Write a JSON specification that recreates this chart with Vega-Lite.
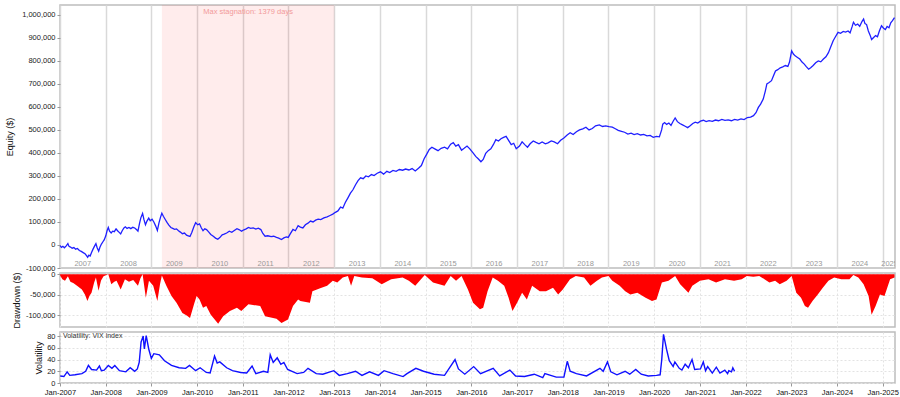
{
  "$schema": "https://vega.github.io/schema/vega-lite/v6.json",
  "padding": {"left": 4, "top": 4, "right": 5, "bottom": 2},
  "background": "white",
  "spacing": 5,
  "bounds": "flush",
  "config": {
    "font": "Liberation Sans",
    "locale": {"number": {"decimal": ".", "thousands": ",", "grouping": [3], "currency": ["$", ""], "minus": "-"}},
    "view": {"stroke": "#bdbdbd", "strokeWidth": 1.5},
    "axis": {"labelFontSize": 7.5, "labelColor": "#222222", "titleFontSize": 9, "titleFontWeight": "normal", "titleColor": "#111111", "tickColor": "#999999", "tickSize": 3, "labelPadding": 2, "domain": false, "gridColor": "#e3e3e3", "gridDash": [2, 2], "gridWidth": 1, "labelOverlap": false, "labelFlush": false}
  },
  "datasets": {
    "stag": [{"start": "2009-03-25", "end": "2013-01-02", "mid": "2011-02-12", "label": "Max stagnation: 1379 days"}],
    "years": [
      {"date": "2007-07-02", "label": "2007"}, {"date": "2008-07-02", "label": "2008"}, {"date": "2009-07-02", "label": "2009"},
      {"date": "2010-07-02", "label": "2010"}, {"date": "2011-07-02", "label": "2011"}, {"date": "2012-07-02", "label": "2012"},
      {"date": "2013-07-02", "label": "2013"}, {"date": "2014-07-02", "label": "2014"}, {"date": "2015-07-02", "label": "2015"},
      {"date": "2016-07-02", "label": "2016"}, {"date": "2017-07-02", "label": "2017"}, {"date": "2018-07-02", "label": "2018"},
      {"date": "2019-07-02", "label": "2019"}, {"date": "2020-07-02", "label": "2020"}, {"date": "2021-07-02", "label": "2021"},
      {"date": "2022-07-02", "label": "2022"}, {"date": "2023-07-02", "label": "2023"}, {"date": "2024-07-02", "label": "2024"},
      {"date": "2025-02-25", "label": "2025"}
    ],
    "legend": [{"date": "2007-01-24", "label": "Volatility: VIX index"}],
    "equity": [
      {"date":"2007-01-02","equity":-3000},{"date":"2007-01-12","equity":-10000},{"date":"2007-01-24","equity":-6000},{"date":"2007-02-05","equity":-12000},{"date":"2007-02-20","equity":-4000},{"date":"2007-03-05","equity":6000},{"date":"2007-03-14","equity":-6000},{"date":"2007-03-26","equity":-9000},{"date":"2007-04-08","equity":-14000},{"date":"2007-04-22","equity":-11000},{"date":"2007-05-06","equity":-18000},{"date":"2007-05-20","equity":-15000},{"date":"2007-06-05","equity":-24000},{"date":"2007-06-20","equity":-28000},{"date":"2007-07-05","equity":-33000},{"date":"2007-07-20","equity":-38000},{"date":"2007-08-01","equity":-46000},{"date":"2007-08-10","equity":-53000},{"date":"2007-08-20","equity":-44000},{"date":"2007-08-30","equity":-48000},{"date":"2007-09-10","equity":-33000},{"date":"2007-09-22","equity":-18000},{"date":"2007-10-05","equity":-4000},{"date":"2007-10-15","equity":6000},{"date":"2007-10-25","equity":-12000},{"date":"2007-11-06","equity":-27000},{"date":"2007-11-16","equity":-10000},{"date":"2007-11-28","equity":4000},{"date":"2007-12-10","equity":14000},{"date":"2007-12-20","equity":22000},
      {"date":"2008-01-02","equity":40000},{"date":"2008-01-12","equity":62000},{"date":"2008-01-22","equity":76000},{"date":"2008-02-01","equity":60000},{"date":"2008-02-14","equity":52000},{"date":"2008-02-26","equity":60000},{"date":"2008-03-10","equity":58000},{"date":"2008-03-24","equity":70000},{"date":"2008-04-05","equity":62000},{"date":"2008-04-18","equity":55000},{"date":"2008-04-30","equity":48000},{"date":"2008-05-12","equity":62000},{"date":"2008-05-26","equity":74000},{"date":"2008-06-06","equity":79000},{"date":"2008-06-20","equity":72000},{"date":"2008-07-05","equity":76000},{"date":"2008-07-20","equity":71000},{"date":"2008-08-05","equity":77000},{"date":"2008-08-20","equity":74000},{"date":"2008-09-05","equity":66000},{"date":"2008-09-15","equity":60000},{"date":"2008-09-28","equity":95000},{"date":"2008-10-08","equity":118000},{"date":"2008-10-22","equity":137000},{"date":"2008-11-02","equity":110000},{"date":"2008-11-14","equity":88000},{"date":"2008-11-26","equity":104000},{"date":"2008-12-10","equity":117000},{"date":"2008-12-22","equity":105000},
      {"date":"2009-01-06","equity":112000},{"date":"2009-01-20","equity":100000},{"date":"2009-02-04","equity":82000},{"date":"2009-02-17","equity":63000},{"date":"2009-03-02","equity":96000},{"date":"2009-03-14","equity":120000},{"date":"2009-03-25","equity":138000},{"date":"2009-04-06","equity":125000},{"date":"2009-04-20","equity":112000},{"date":"2009-05-05","equity":98000},{"date":"2009-05-20","equity":86000},{"date":"2009-06-05","equity":76000},{"date":"2009-06-20","equity":72000},{"date":"2009-07-05","equity":68000},{"date":"2009-07-20","equity":70000},{"date":"2009-08-05","equity":62000},{"date":"2009-08-20","equity":56000},{"date":"2009-09-05","equity":49000},{"date":"2009-09-22","equity":52000},{"date":"2009-10-08","equity":43000},{"date":"2009-10-22","equity":40000},{"date":"2009-11-05","equity":37000},{"date":"2009-11-20","equity":55000},{"date":"2009-12-05","equity":78000},{"date":"2009-12-20","equity":97000},
      {"date":"2010-01-05","equity":88000},{"date":"2010-01-20","equity":92000},{"date":"2010-02-03","equity":75000},{"date":"2010-02-17","equity":62000},{"date":"2010-03-03","equity":70000},{"date":"2010-03-17","equity":67000},{"date":"2010-04-01","equity":58000},{"date":"2010-04-20","equity":46000},{"date":"2010-05-10","equity":38000},{"date":"2010-05-28","equity":30000},{"date":"2010-06-15","equity":25000},{"date":"2010-07-01","equity":32000},{"date":"2010-07-20","equity":44000},{"date":"2010-08-05","equity":47000},{"date":"2010-08-25","equity":52000},{"date":"2010-09-15","equity":60000},{"date":"2010-10-05","equity":55000},{"date":"2010-10-25","equity":63000},{"date":"2010-11-15","equity":71000},{"date":"2010-12-05","equity":66000},{"date":"2010-12-22","equity":60000},
      {"date":"2011-01-10","equity":66000},{"date":"2011-01-28","equity":70000},{"date":"2011-02-15","equity":76000},{"date":"2011-03-05","equity":72000},{"date":"2011-03-25","equity":74000},{"date":"2011-04-15","equity":69000},{"date":"2011-05-05","equity":73000},{"date":"2011-05-25","equity":67000},{"date":"2011-06-10","equity":50000},{"date":"2011-06-28","equity":38000},{"date":"2011-07-20","equity":40000},{"date":"2011-08-15","equity":36000},{"date":"2011-09-05","equity":38000},{"date":"2011-09-27","equity":33000},{"date":"2011-10-15","equity":30000},{"date":"2011-11-06","equity":24000},{"date":"2011-11-25","equity":31000},{"date":"2011-12-15","equity":35000},{"date":"2011-12-30","equity":33000},
      {"date":"2012-01-15","equity":48000},{"date":"2012-02-06","equity":68000},{"date":"2012-02-25","equity":62000},{"date":"2012-03-18","equity":84000},{"date":"2012-04-05","equity":78000},{"date":"2012-04-25","equity":74000},{"date":"2012-05-15","equity":88000},{"date":"2012-06-05","equity":95000},{"date":"2012-06-25","equity":104000},{"date":"2012-07-15","equity":100000},{"date":"2012-08-05","equity":108000},{"date":"2012-08-25","equity":112000},{"date":"2012-09-15","equity":110000},{"date":"2012-10-10","equity":118000},{"date":"2012-11-05","equity":122000},{"date":"2012-11-28","equity":128000},{"date":"2012-12-20","equity":134000},
      {"date":"2013-01-10","equity":142000},{"date":"2013-01-30","equity":148000},{"date":"2013-02-20","equity":165000},{"date":"2013-03-10","equity":160000},{"date":"2013-03-30","equity":185000},{"date":"2013-04-20","equity":205000},{"date":"2013-05-10","equity":225000},{"date":"2013-05-30","equity":240000},{"date":"2013-06-20","equity":262000},{"date":"2013-07-10","equity":280000},{"date":"2013-07-30","equity":292000},{"date":"2013-08-20","equity":288000},{"date":"2013-09-10","equity":300000},{"date":"2013-10-01","equity":296000},{"date":"2013-10-25","equity":306000},{"date":"2013-11-15","equity":302000},{"date":"2013-12-10","equity":312000},
      {"date":"2014-01-05","equity":318000},{"date":"2014-01-30","equity":308000},{"date":"2014-02-25","equity":320000},{"date":"2014-03-20","equity":315000},{"date":"2014-04-15","equity":324000},{"date":"2014-05-10","equity":320000},{"date":"2014-06-05","equity":328000},{"date":"2014-07-01","equity":325000},{"date":"2014-07-25","equity":330000},{"date":"2014-08-20","equity":326000},{"date":"2014-09-15","equity":332000},{"date":"2014-10-10","equity":322000},{"date":"2014-11-05","equity":334000},{"date":"2014-11-28","equity":345000},{"date":"2014-12-20","equity":375000},
      {"date":"2015-01-10","equity":395000},{"date":"2015-01-30","equity":415000},{"date":"2015-02-20","equity":425000},{"date":"2015-03-15","equity":418000},{"date":"2015-04-10","equity":410000},{"date":"2015-05-05","equity":420000},{"date":"2015-06-01","equity":425000},{"date":"2015-06-25","equity":418000},{"date":"2015-07-20","equity":438000},{"date":"2015-08-10","equity":445000},{"date":"2015-08-30","equity":430000},{"date":"2015-09-20","equity":436000},{"date":"2015-10-15","equity":412000},{"date":"2015-11-05","equity":420000},{"date":"2015-11-28","equity":430000},{"date":"2015-12-20","equity":418000},
      {"date":"2016-01-15","equity":400000},{"date":"2016-02-05","equity":385000},{"date":"2016-02-25","equity":375000},{"date":"2016-03-18","equity":362000},{"date":"2016-04-05","equity":372000},{"date":"2016-04-25","equity":398000},{"date":"2016-05-15","equity":410000},{"date":"2016-06-05","equity":418000},{"date":"2016-06-25","equity":436000},{"date":"2016-07-15","equity":458000},{"date":"2016-08-05","equity":452000},{"date":"2016-08-25","equity":462000},{"date":"2016-09-15","equity":468000},{"date":"2016-10-05","equity":472000},{"date":"2016-10-25","equity":455000},{"date":"2016-11-15","equity":436000},{"date":"2016-12-05","equity":442000},{"date":"2016-12-25","equity":418000},
      {"date":"2017-01-20","equity":430000},{"date":"2017-02-10","equity":448000},{"date":"2017-03-05","equity":435000},{"date":"2017-03-25","equity":425000},{"date":"2017-04-15","equity":440000},{"date":"2017-05-10","equity":452000},{"date":"2017-06-01","equity":446000},{"date":"2017-06-25","equity":440000},{"date":"2017-07-20","equity":448000},{"date":"2017-08-15","equity":440000},{"date":"2017-09-05","equity":444000},{"date":"2017-10-01","equity":452000},{"date":"2017-10-25","equity":448000},{"date":"2017-11-20","equity":440000},{"date":"2017-12-15","equity":455000},
      {"date":"2018-01-10","equity":465000},{"date":"2018-02-05","equity":478000},{"date":"2018-03-01","equity":488000},{"date":"2018-03-25","equity":480000},{"date":"2018-04-20","equity":492000},{"date":"2018-05-15","equity":500000},{"date":"2018-06-10","equity":505000},{"date":"2018-07-05","equity":512000},{"date":"2018-07-30","equity":500000},{"date":"2018-08-25","equity":506000},{"date":"2018-09-20","equity":518000},{"date":"2018-10-20","equity":522000},{"date":"2018-11-15","equity":515000},{"date":"2018-12-10","equity":518000},
      {"date":"2019-01-05","equity":514000},{"date":"2019-02-01","equity":512000},{"date":"2019-02-25","equity":505000},{"date":"2019-03-20","equity":498000},{"date":"2019-04-15","equity":494000},{"date":"2019-05-10","equity":490000},{"date":"2019-06-05","equity":482000},{"date":"2019-07-01","equity":486000},{"date":"2019-07-25","equity":480000},{"date":"2019-08-20","equity":484000},{"date":"2019-09-15","equity":478000},{"date":"2019-10-10","equity":481000},{"date":"2019-11-05","equity":474000},{"date":"2019-11-30","equity":476000},{"date":"2019-12-25","equity":468000},
      {"date":"2020-01-20","equity":472000},{"date":"2020-02-12","equity":470000},{"date":"2020-03-01","equity":500000},{"date":"2020-03-10","equity":525000},{"date":"2020-03-25","equity":532000},{"date":"2020-04-10","equity":524000},{"date":"2020-04-28","equity":530000},{"date":"2020-05-15","equity":520000},{"date":"2020-06-01","equity":538000},{"date":"2020-06-17","equity":552000},{"date":"2020-07-05","equity":536000},{"date":"2020-07-25","equity":528000},{"date":"2020-08-15","equity":522000},{"date":"2020-09-05","equity":516000},{"date":"2020-09-25","equity":510000},{"date":"2020-10-15","equity":518000},{"date":"2020-11-05","equity":528000},{"date":"2020-11-25","equity":534000},{"date":"2020-12-15","equity":530000},
      {"date":"2021-01-05","equity":538000},{"date":"2021-01-29","equity":542000},{"date":"2021-02-20","equity":536000},{"date":"2021-03-15","equity":540000},{"date":"2021-04-10","equity":537000},{"date":"2021-05-05","equity":543000},{"date":"2021-05-30","equity":540000},{"date":"2021-06-25","equity":546000},{"date":"2021-07-20","equity":542000},{"date":"2021-08-15","equity":544000},{"date":"2021-09-10","equity":540000},{"date":"2021-10-05","equity":546000},{"date":"2021-10-30","equity":543000},{"date":"2021-11-25","equity":548000},{"date":"2021-12-20","equity":545000},
      {"date":"2022-01-15","equity":554000},{"date":"2022-02-10","equity":556000},{"date":"2022-03-05","equity":562000},{"date":"2022-03-25","equity":575000},{"date":"2022-04-13","equity":598000},{"date":"2022-05-01","equity":612000},{"date":"2022-05-22","equity":634000},{"date":"2022-06-08","equity":670000},{"date":"2022-06-20","equity":700000},{"date":"2022-07-05","equity":705000},{"date":"2022-07-27","equity":714000},{"date":"2022-08-12","equity":735000},{"date":"2022-08-28","equity":756000},{"date":"2022-09-15","equity":762000},{"date":"2022-10-05","equity":770000},{"date":"2022-10-25","equity":774000},{"date":"2022-11-15","equity":780000},{"date":"2022-12-05","equity":776000},{"date":"2022-12-18","equity":795000},
      {"date":"2023-01-04","equity":844000},{"date":"2023-01-18","equity":830000},{"date":"2023-02-01","equity":822000},{"date":"2023-02-20","equity":815000},{"date":"2023-03-10","equity":808000},{"date":"2023-03-28","equity":795000},{"date":"2023-04-15","equity":786000},{"date":"2023-05-01","equity":775000},{"date":"2023-05-20","equity":764000},{"date":"2023-06-05","equity":770000},{"date":"2023-06-25","equity":780000},{"date":"2023-07-15","equity":792000},{"date":"2023-08-05","equity":800000},{"date":"2023-08-25","equity":796000},{"date":"2023-09-15","equity":808000},{"date":"2023-10-05","equity":818000},{"date":"2023-10-25","equity":836000},{"date":"2023-11-12","equity":860000},{"date":"2023-12-02","equity":888000},{"date":"2023-12-20","equity":905000},
      {"date":"2024-01-10","equity":924000},{"date":"2024-01-30","equity":920000},{"date":"2024-02-20","equity":928000},{"date":"2024-03-10","equity":925000},{"date":"2024-03-30","equity":930000},{"date":"2024-04-15","equity":922000},{"date":"2024-05-02","equity":950000},{"date":"2024-05-12","equity":968000},{"date":"2024-05-28","equity":955000},{"date":"2024-06-15","equity":960000},{"date":"2024-07-01","equity":950000},{"date":"2024-07-20","equity":972000},{"date":"2024-08-01","equity":982000},{"date":"2024-08-12","equity":962000},{"date":"2024-08-25","equity":958000},{"date":"2024-09-08","equity":930000},{"date":"2024-09-22","equity":912000},{"date":"2024-10-04","equity":893000},{"date":"2024-10-20","equity":902000},{"date":"2024-11-05","equity":910000},{"date":"2024-11-20","equity":905000},{"date":"2024-12-05","equity":930000},{"date":"2024-12-22","equity":953000},
      {"date":"2025-01-08","equity":942000},{"date":"2025-01-22","equity":936000},{"date":"2025-02-05","equity":950000},{"date":"2025-02-20","equity":944000},{"date":"2025-03-06","equity":966000},{"date":"2025-03-20","equity":975000},{"date":"2025-04-05","equity":988000}
    ],
    "drawdown": [
      {"date":"2007-01-02","dd":-3000},{"date":"2007-01-20","dd":-12000},{"date":"2007-02-10","dd":-16000},{"date":"2007-03-05","dd":-5000},{"date":"2007-03-25","dd":-18000},{"date":"2007-04-20","dd":-22000},{"date":"2007-05-25","dd":-30000},{"date":"2007-06-25","dd":-37000},{"date":"2007-07-20","dd":-50000},{"date":"2007-08-08","dd":-65000},{"date":"2007-08-25","dd":-52000},{"date":"2007-09-10","dd":-45000},{"date":"2007-10-01","dd":-20000},{"date":"2007-10-15","dd":-8000},{"date":"2007-11-05","dd":-40000},{"date":"2007-11-25","dd":-15000},{"date":"2007-12-15","dd":-5000},
      {"date":"2008-01-22","dd":0},{"date":"2008-02-15","dd":-24000},{"date":"2008-03-10","dd":-18000},{"date":"2008-03-28","dd":-16000},{"date":"2008-04-30","dd":-37000},{"date":"2008-06-03","dd":-12000},{"date":"2008-07-05","dd":-18000},{"date":"2008-08-08","dd":-14000},{"date":"2008-09-15","dd":-28000},{"date":"2008-10-05","dd":-10000},{"date":"2008-10-22","dd":0},{"date":"2008-11-17","dd":-57000},{"date":"2008-12-12","dd":-16000},
      {"date":"2009-01-15","dd":-28000},{"date":"2009-02-17","dd":-65000},{"date":"2009-03-10","dd":-25000},{"date":"2009-03-25","dd":-3000},{"date":"2009-04-30","dd":-28000},{"date":"2009-06-10","dd":-53000},{"date":"2009-07-20","dd":-69000},{"date":"2009-09-05","dd":-94000},{"date":"2009-10-10","dd":-100000},{"date":"2009-11-05","dd":-106000},{"date":"2009-12-10","dd":-70000},{"date":"2009-12-28","dd":-53000},
      {"date":"2010-01-20","dd":-61000},{"date":"2010-02-17","dd":-81000},{"date":"2010-03-15","dd":-77000},{"date":"2010-04-20","dd":-98000},{"date":"2010-06-18","dd":-120000},{"date":"2010-07-28","dd":-102000},{"date":"2010-09-20","dd":-89000},{"date":"2010-11-15","dd":-81000},{"date":"2010-12-20","dd":-89000},
      {"date":"2011-02-15","dd":-73000},{"date":"2011-05-20","dd":-77000},{"date":"2011-06-28","dd":-102000},{"date":"2011-09-27","dd":-108000},{"date":"2011-11-06","dd":-118000},{"date":"2011-12-28","dd":-110000},
      {"date":"2012-02-06","dd":-77000},{"date":"2012-03-18","dd":-61000},{"date":"2012-04-05","dd":-65000},{"date":"2012-06-20","dd":-69000},{"date":"2012-07-10","dd":-41000},{"date":"2012-09-10","dd":-34000},{"date":"2012-11-05","dd":-28000},{"date":"2012-12-20","dd":-16000},
      {"date":"2013-01-25","dd":-20000},{"date":"2013-03-10","dd":-8000},{"date":"2013-04-20","dd":-4000},{"date":"2013-05-15","dd":-28000},{"date":"2013-06-10","dd":-4000},{"date":"2013-08-10","dd":-8000},{"date":"2013-11-01","dd":-10000},
      {"date":"2014-01-15","dd":-24000},{"date":"2014-04-01","dd":-12000},{"date":"2014-07-01","dd":-8000},{"date":"2014-08-20","dd":-16000},{"date":"2014-10-10","dd":-28000},{"date":"2014-12-25","dd":-2000},
      {"date":"2015-03-01","dd":-20000},{"date":"2015-06-01","dd":-28000},{"date":"2015-07-20","dd":-4000},{"date":"2015-09-01","dd":-16000},{"date":"2015-10-15","dd":-4000},{"date":"2015-12-05","dd":-37000},
      {"date":"2016-01-15","dd":-69000},{"date":"2016-03-10","dd":-85000},{"date":"2016-04-05","dd":-81000},{"date":"2016-05-10","dd":-41000},{"date":"2016-06-20","dd":-8000},{"date":"2016-08-01","dd":-16000},{"date":"2016-09-20","dd":-28000},{"date":"2016-10-25","dd":-57000},{"date":"2016-11-25","dd":-89000},
      {"date":"2017-01-01","dd":-69000},{"date":"2017-02-10","dd":-45000},{"date":"2017-03-20","dd":-61000},{"date":"2017-05-01","dd":-28000},{"date":"2017-07-01","dd":-41000},{"date":"2017-08-20","dd":-41000},{"date":"2017-10-15","dd":-33000},{"date":"2017-11-25","dd":-49000},
      {"date":"2018-01-01","dd":-37000},{"date":"2018-02-28","dd":-12000},{"date":"2018-04-15","dd":-4000},{"date":"2018-06-20","dd":-8000},{"date":"2018-08-10","dd":-28000},{"date":"2018-10-01","dd":-16000},{"date":"2018-11-10","dd":-8000},
      {"date":"2019-01-01","dd":-4000},{"date":"2019-02-01","dd":-16000},{"date":"2019-04-01","dd":-28000},{"date":"2019-05-15","dd":-41000},{"date":"2019-06-25","dd":-49000},{"date":"2019-08-20","dd":-45000},{"date":"2019-10-25","dd":-57000},{"date":"2019-12-15","dd":-65000},
      {"date":"2020-01-20","dd":-61000},{"date":"2020-03-03","dd":-20000},{"date":"2020-04-25","dd":-16000},{"date":"2020-06-17","dd":-4000},{"date":"2020-07-27","dd":-24000},{"date":"2020-10-01","dd":-45000},{"date":"2020-11-01","dd":-28000},
      {"date":"2021-01-01","dd":-16000},{"date":"2021-03-10","dd":-12000},{"date":"2021-05-10","dd":-20000},{"date":"2021-07-20","dd":-12000},{"date":"2021-10-01","dd":-16000},{"date":"2021-12-01","dd":-12000},
      {"date":"2022-01-11","dd":-4000},{"date":"2022-03-04","dd":-6000},{"date":"2022-04-20","dd":-4000},{"date":"2022-06-01","dd":-12000},{"date":"2022-07-10","dd":-20000},{"date":"2022-08-25","dd":-16000},{"date":"2022-10-01","dd":-24000},{"date":"2022-11-25","dd":-16000},
      {"date":"2023-01-04","dd":-4000},{"date":"2023-02-10","dd":-45000},{"date":"2023-03-20","dd":-57000},{"date":"2023-04-20","dd":-77000},{"date":"2023-05-15","dd":-81000},{"date":"2023-06-20","dd":-65000},{"date":"2023-08-01","dd":-49000},{"date":"2023-09-10","dd":-33000},{"date":"2023-10-25","dd":-16000},{"date":"2023-12-10","dd":-8000},
      {"date":"2024-02-05","dd":-12000},{"date":"2024-04-10","dd":-12000},{"date":"2024-05-11","dd":-2000},{"date":"2024-06-20","dd":-8000},{"date":"2024-08-01","dd":-24000},{"date":"2024-09-10","dd":-53000},{"date":"2024-10-04","dd":-98000},{"date":"2024-11-05","dd":-77000},{"date":"2024-12-10","dd":-49000},
      {"date":"2025-01-15","dd":-53000},{"date":"2025-03-01","dd":-12000},{"date":"2025-04-05","dd":-8000}
    ],
    "vix": [
      {"date":"2007-01-03","vix":12},{"date":"2007-02-01","vix":11},{"date":"2007-02-27","vix":19},{"date":"2007-03-20","vix":13},{"date":"2007-05-01","vix":14},{"date":"2007-06-25","vix":16},{"date":"2007-07-25","vix":20},{"date":"2007-08-16","vix":30},{"date":"2007-09-10","vix":23},{"date":"2007-10-20","vix":22},{"date":"2007-11-12","vix":29},{"date":"2007-11-28","vix":21},{"date":"2007-12-20","vix":22},
      {"date":"2008-01-22","vix":30},{"date":"2008-02-20","vix":25},{"date":"2008-03-14","vix":30},{"date":"2008-04-20","vix":21},{"date":"2008-06-10","vix":19},{"date":"2008-07-15","vix":26},{"date":"2008-08-20","vix":20},{"date":"2008-09-10","vix":24},{"date":"2008-09-25","vix":35},{"date":"2008-10-10","vix":70},{"date":"2008-10-27","vix":80},{"date":"2008-11-05","vix":58},{"date":"2008-11-20","vix":81},{"date":"2008-12-10","vix":58},{"date":"2008-12-31","vix":42},
      {"date":"2009-01-20","vix":50},{"date":"2009-03-05","vix":48},{"date":"2009-04-15","vix":38},{"date":"2009-06-10","vix":30},{"date":"2009-08-10","vix":26},{"date":"2009-10-01","vix":25},{"date":"2009-11-01","vix":30},{"date":"2009-12-20","vix":21},
      {"date":"2010-01-25","vix":26},{"date":"2010-03-15","vix":18},{"date":"2010-04-15","vix":17},{"date":"2010-05-20","vix":46},{"date":"2010-06-10","vix":34},{"date":"2010-07-01","vix":36},{"date":"2010-08-25","vix":26},{"date":"2010-10-10","vix":21},{"date":"2010-12-15","vix":18},
      {"date":"2011-02-01","vix":17},{"date":"2011-03-16","vix":29},{"date":"2011-04-15","vix":16},{"date":"2011-06-15","vix":20},{"date":"2011-07-20","vix":18},{"date":"2011-08-08","vix":48},{"date":"2011-09-01","vix":35},{"date":"2011-10-03","vix":43},{"date":"2011-11-01","vix":32},{"date":"2011-11-25","vix":35},{"date":"2011-12-25","vix":23},
      {"date":"2012-03-10","vix":16},{"date":"2012-05-01","vix":18},{"date":"2012-06-05","vix":25},{"date":"2012-08-10","vix":16},{"date":"2012-10-01","vix":15},{"date":"2012-12-28","vix":21},
      {"date":"2013-02-10","vix":13},{"date":"2013-04-15","vix":16},{"date":"2013-06-20","vix":20},{"date":"2013-08-10","vix":13},{"date":"2013-10-10","vix":19},{"date":"2013-12-20","vix":13},
      {"date":"2014-02-03","vix":21},{"date":"2014-04-15","vix":16},{"date":"2014-07-05","vix":11},{"date":"2014-08-05","vix":16},{"date":"2014-10-15","vix":25},{"date":"2014-12-15","vix":20},
      {"date":"2015-03-10","vix":15},{"date":"2015-06-01","vix":13},{"date":"2015-08-24","vix":40},{"date":"2015-09-20","vix":24},{"date":"2015-11-10","vix":15},
      {"date":"2016-01-20","vix":28},{"date":"2016-03-15","vix":16},{"date":"2016-06-24","vix":25},{"date":"2016-08-15","vix":12},{"date":"2016-11-04","vix":22},{"date":"2016-12-20","vix":12},
      {"date":"2017-03-01","vix":11},{"date":"2017-05-18","vix":15},{"date":"2017-07-25","vix":9},{"date":"2017-08-11","vix":16},{"date":"2017-11-10","vix":10},
      {"date":"2018-01-10","vix":10},{"date":"2018-02-06","vix":37},{"date":"2018-03-01","vix":20},{"date":"2018-04-20","vix":16},{"date":"2018-07-10","vix":12},{"date":"2018-10-25","vix":25},{"date":"2018-11-20","vix":20},{"date":"2018-12-24","vix":36},
      {"date":"2019-01-20","vix":19},{"date":"2019-03-10","vix":14},{"date":"2019-05-14","vix":20},{"date":"2019-06-20","vix":15},{"date":"2019-08-07","vix":23},{"date":"2019-09-20","vix":15},{"date":"2019-11-15","vix":12},
      {"date":"2020-01-20","vix":13},{"date":"2020-02-18","vix":14},{"date":"2020-03-02","vix":40},{"date":"2020-03-16","vix":83},{"date":"2020-04-10","vix":57},{"date":"2020-05-01","vix":38},{"date":"2020-06-01","vix":28},{"date":"2020-06-15","vix":36},{"date":"2020-07-20","vix":25},{"date":"2020-08-10","vix":22},{"date":"2020-09-05","vix":32},{"date":"2020-10-01","vix":26},{"date":"2020-10-30","vix":40},{"date":"2020-11-20","vix":23},
      {"date":"2021-01-05","vix":24},{"date":"2021-01-28","vix":36},{"date":"2021-02-15","vix":21},{"date":"2021-03-04","vix":28},{"date":"2021-04-10","vix":17},{"date":"2021-05-12","vix":27},{"date":"2021-06-10","vix":17},{"date":"2021-07-19","vix":22},{"date":"2021-08-10","vix":16},{"date":"2021-08-20","vix":21},{"date":"2021-09-10","vix":19},{"date":"2021-09-21","vix":26},{"date":"2021-10-05","vix":20}
    ]
  },
  "vconcat": [
    {
      "width": 835,
      "height": 263,
      "layer": [
        {
          "data": {"name": "stag"},
          "mark": {"type": "rect", "color": "#ff0000", "opacity": 0.075},
          "encoding": {
            "x": {"field": "start", "type": "temporal",
              "scale": {"type": "utc", "domain": [{"year": 2007, "month": 1, "date": 1, "utc": true}, {"year": 2025, "month": 4, "date": 9, "utc": true}]},
              "axis": {"labels": false, "ticks": false, "domain": false, "title": null, "grid": true, "gridDash": [], "gridColor": "#d9d9d9", "gridWidth": 1.5, "tickCount": {"interval": "year", "step": 1}}},
            "x2": {"field": "end"}
          }
        },
        {
          "data": {"name": "stag"},
          "mark": {"type": "text", "color": "#f29a9a", "fontSize": 7.5},
          "encoding": {
            "x": {"field": "mid", "type": "temporal"},
            "y": {"datum": 1013000, "type": "quantitative"},
            "text": {"field": "label"}
          }
        },
        {
          "data": {"name": "years"},
          "mark": {"type": "text", "color": "#999999", "fontSize": 7.5, "clip": true},
          "encoding": {
            "x": {"field": "date", "type": "temporal"},
            "y": {"datum": -84000, "type": "quantitative"},
            "text": {"field": "label"}
          }
        },
        {
          "data": {"name": "equity"},
          "mark": {"type": "line", "color": "#1f1fff", "strokeWidth": 1.3},
          "encoding": {
            "x": {"field": "date", "type": "temporal"},
            "y": {"field": "equity", "type": "quantitative",
              "scale": {"domain": [-100000, 1043000], "nice": false, "zero": false},
              "axis": {"title": "Equity ($)", "titlePadding": 7, "tickCount": 30, "values": [-100000, 0, 100000, 200000, 300000, 400000, 500000, 600000, 700000, 800000, 900000, 1000000], "format": ",d"}}
          }
        }
      ]
    },
    {
      "width": 835,
      "height": 54,
      "data": {"name": "drawdown"},
      "mark": {"type": "area", "color": "#ff0000", "opacity": 1, "interpolate": "linear"},
      "encoding": {
        "x": {"field": "date", "type": "temporal",
          "scale": {"type": "utc", "domain": [{"year": 2007, "month": 1, "date": 1, "utc": true}, {"year": 2025, "month": 4, "date": 9, "utc": true}]},
          "axis": {"labels": false, "ticks": false, "title": null, "grid": true, "tickCount": {"interval": "year", "step": 1}}},
        "y": {"field": "dd", "type": "quantitative",
          "scale": {"domain": [-128000, 3000], "nice": false, "zero": false},
          "axis": {"title": "Drawdown ($)", "titlePadding": 4, "tickCount": 30, "values": [-100000, -50000, 0], "format": ",d"}},
        "y2": {"datum": 0}
      }
    },
    {
      "width": 835,
      "height": 51,
      "layer": [
        {
          "data": {"name": "vix"},
          "mark": {"type": "line", "color": "#1010ff", "strokeWidth": 1.4},
          "encoding": {
            "x": {"field": "date", "type": "temporal",
              "scale": {"type": "utc", "domain": [{"year": 2007, "month": 1, "date": 1, "utc": true}, {"year": 2025, "month": 4, "date": 9, "utc": true}]},
              "axis": {"title": null, "grid": true, "format": "%b-%Y", "labelColor": "#111111", "labelFlush": false, "tickCount": {"interval": "year", "step": 1}}},
            "y": {"field": "vix", "type": "quantitative",
              "scale": {"domain": [0, 87], "nice": false},
              "axis": {"title": "Volatility", "titlePadding": 3, "tickCount": 30, "values": [0, 20, 40, 60, 80]}}
          }
        },
        {
          "data": {"name": "legend"},
          "mark": {"type": "text", "align": "left", "color": "#333333", "fontSize": 7},
          "encoding": {
            "x": {"field": "date", "type": "temporal"},
            "y": {"datum": 81, "type": "quantitative"},
            "text": {"field": "label"}
          }
        }
      ]
    }
  ]
}
